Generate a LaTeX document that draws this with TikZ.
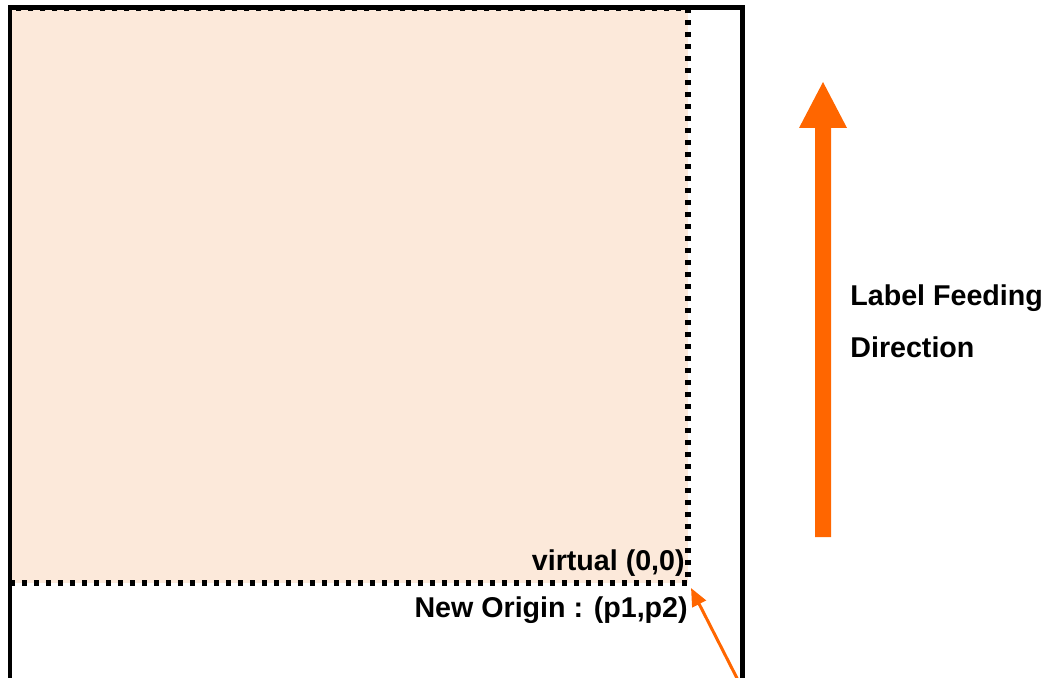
\documentclass[tikz,border=0pt]{standalone}
\usepackage{fontspec}
\setmainfont{Liberation Sans}
\usepackage{tikz}
\usetikzlibrary{arrows.meta}

\definecolor{labelpeach}{HTML}{FCE9DA}
\definecolor{feedorange}{HTML}{FF6600}

\begin{document}
\begin{tikzpicture}[x=0.02cm, y=-0.02cm,
	txt/.style={font=\fontsize{16.3}{20}\selectfont\bfseries, inner sep=0pt},
	dots/.style={line width=0.11cm, dash pattern=on 0.1cm off 0.14cm}]
	\useasboundingbox (0,0) rectangle (1053,678);
	\clip (0,0) rectangle (1053,678);

	% corners of the shifted label area
	\coordinate (top left) at (10,8);
	\coordinate (origin) at (688,583);
	\coordinate (tail) at (743,690);

	% printable area, peach
	\fill[fill = labelpeach] (top left) rectangle (origin);
	% label outline
	\draw[line width=0.1cm] (10,700) -- (10,8) -- (742,8) -- (742,700);
	\draw[dots] (10,583) -- (origin) -- (688,8) -- (10,8);

	\node[txt, anchor=east] (virtual) at (685,563) {virtual (0,0)};
	\node[txt, anchor=east] (neworigin) at (688,610) {New Origin : (p1,p2)};

	\draw[feedorange, line width=0.06cm, -{Triangle[length=0.36cm, width=0.3cm]}] (tail) -- ([shift={(3,5)}]origin);

	% feeding direction
	\fill[feedorange] (815,537) -- (815,128) -- (799,128) -- (823,82) -- (847,128) -- (831,128) -- (831,537) -- cycle;
	\node[txt, anchor=west] (feed) at (850,298) {Label Feeding};
	\node[txt, anchor=west] (direction) at (850,347) {Direction};
\end{tikzpicture}
\end{document}
